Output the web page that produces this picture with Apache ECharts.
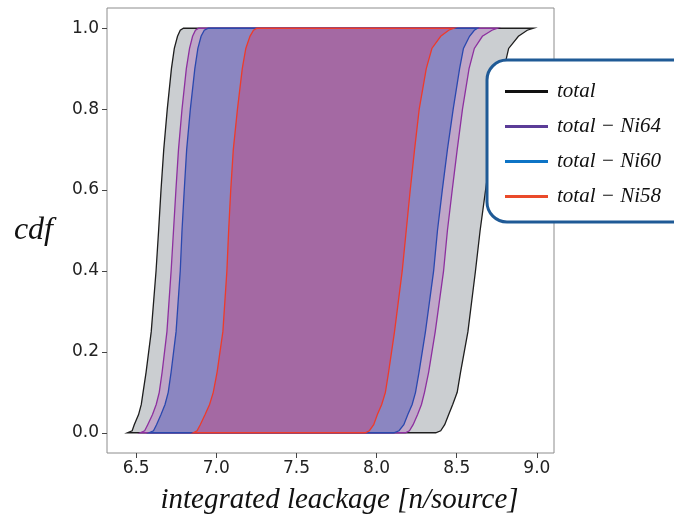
<!DOCTYPE html>
<html>
<head>
<meta charset="utf-8">
<title>cdf bands</title>
<script src="https://cdn.jsdelivr.net/npm/echarts@6/dist/echarts.min.js"></script>
<style>
  html, body { margin: 0; padding: 0; background: #fff; }
  #chart { width: 674px; height: 518px; }
</style>
</head>
<body>
<div id="chart"></div>
<script>
  const cdfLevels = [0, 0.005, 0.02, 0.045, 0.07, 0.1, 0.15, 0.25, 0.4, 0.5, 0.6, 0.7, 0.8, 0.9, 0.95, 0.98, 0.995, 1.0]

  // left / right bounds (integrated leakage) for each band
  const totalLeft  = [6.445, 6.475, 6.488, 6.515, 6.532, 6.543, 6.562, 6.594, 6.624, 6.640, 6.655, 6.672, 6.694, 6.720, 6.738, 6.758, 6.775, 6.795]
  const totalRight = [8.369, 8.400, 8.425, 8.450, 8.475, 8.503, 8.524, 8.570, 8.617, 8.646, 8.680, 8.715, 8.753, 8.795, 8.824, 8.885, 8.940, 8.980]
  const ni64Left   = [6.525, 6.553, 6.572, 6.602, 6.625, 6.644, 6.662, 6.692, 6.718, 6.733, 6.748, 6.764, 6.786, 6.813, 6.833, 6.852, 6.870, 6.890]
  const ni64Right  = [8.180, 8.205, 8.228, 8.256, 8.280, 8.299, 8.325, 8.366, 8.418, 8.442, 8.472, 8.503, 8.536, 8.577, 8.610, 8.660, 8.720, 8.755]
  const ni60Left   = [6.580, 6.608, 6.627, 6.655, 6.680, 6.700, 6.718, 6.749, 6.775, 6.786, 6.800, 6.815, 6.838, 6.866, 6.885, 6.905, 6.925, 6.950]
  const ni60Right  = [8.108, 8.140, 8.170, 8.195, 8.222, 8.243, 8.265, 8.305, 8.356, 8.380, 8.410, 8.442, 8.478, 8.518, 8.542, 8.580, 8.610, 8.630]
  const ni58Left   = [6.856, 6.880, 6.900, 6.930, 6.958, 6.981, 7.005, 7.041, 7.066, 7.077, 7.090, 7.106, 7.132, 7.162, 7.184, 7.210, 7.232, 7.254]
  const ni58Right  = [7.930, 7.955, 7.982, 8.005, 8.032, 8.055, 8.075, 8.112, 8.160, 8.185, 8.210, 8.237, 8.266, 8.310, 8.345, 8.400, 8.450, 8.483]

  const seriesNames = ['total', 'total \u2212 Ni64', 'total \u2212 Ni60', 'total \u2212 Ni58']
  const xTicks = [6.5, 7.0, 7.5, 8.0, 8.5, 9.0]
  const yTicks = [0, 0.2, 0.4, 0.6, 0.8, 1.0]

  // 图例颜色 / 填充 / 边线
  const legendColors = ['#111111', '#5b3c97', '#0d74c6', '#ea4a2a']
  const fillColors = ['#cbced1', '#bfa7c8', '#8b86c1', '#a469a3']
  const edgeColors = ['#1e1e1e', '#8d309f', '#2a48ae', '#ee3b2a']

  const bands = [
    [totalLeft, totalRight],
    [ni64Left, ni64Right],
    [ni60Left, ni60Right],
    [ni58Left, ni58Right]
  ]

  // closed outline: left bound upward, right bound downward
  function bandPoints (left, right) {
    const pts = []
    for (let i = 0; i < cdfLevels.length; i++) pts.push([left[i], cdfLevels[i]])
    for (let i = cdfLevels.length - 1; i >= 0; i--) pts.push([right[i], cdfLevels[i]])
    return pts
  }

  const series = bands.map((b, k) => {
    const pts = bandPoints(b[0], b[1])
    return {
      type: 'custom',
      name: seriesNames[k],
      coordinateSystem: 'cartesian2d',
      itemStyle: { color: legendColors[k] },
      data: pts,
      encode: { x: 0, y: 1 },
      renderItem: function (params, api) {
        if (params.dataIndex !== 0) return
        return {
          type: 'polygon',
          shape: { points: pts.map(p => api.coord(p)) },
          style: { fill: fillColors[k], stroke: edgeColors[k], lineWidth: 1.3 }
        }
      },
      z: 2 + k
    }
  })

  const mathFont = 'Liberation Serif'
  const chart = echarts.init(document.getElementById('chart'))
  chart.setOption({
    animation: false,
    grid: {
      left: 107, top: 8, right: 120, bottom: 65,
      containLabel: false, outerBoundsMode: 'none',
      show: true, borderColor: '#8c8c8c', borderWidth: 1
    },
    xAxis: {
      type: 'value',
      min: 6.318, max: 9.107,
      axisLine: { show: false, onZero: false },
      splitLine: { show: false },
      axisTick: { length: 5, lineStyle: { color: '#444' }, customValues: xTicks },
      axisLabel: {
        customValues: xTicks, margin: 7, fontSize: 17, color: '#222',
        fontFamily: 'DejaVu Sans', formatter: v => v.toFixed(1)
      },
      name: 'integrated leackage [n/source]',
      nameLocation: 'middle', nameGap: 33,
      nameTextStyle: { fontFamily: mathFont, fontStyle: 'italic', fontSize: 29, color: '#111', padding: [0, 0, 0, 18] }
    },
    yAxis: {
      type: 'value',
      min: -0.05, max: 1.05,
      axisLine: { show: false, onZero: false },
      splitLine: { show: false },
      axisTick: { length: 5, lineStyle: { color: '#444' }, customValues: yTicks },
      axisLabel: {
        customValues: yTicks, margin: 8, fontSize: 17, color: '#222',
        fontFamily: 'DejaVu Sans', formatter: v => v.toFixed(1)
      },
      name: 'cdf',
      nameLocation: 'middle', nameRotate: 0, nameGap: 54,
      nameTextStyle: { fontFamily: mathFont, fontStyle: 'italic', fontSize: 32, color: '#111' }
    },
    legend: {
      orient: 'vertical',
      left: 500, top: 76,
      icon: 'rect', itemWidth: 43, itemHeight: 3, itemGap: 14,
      z: 11,
      data: seriesNames.map((n, k) => ({ name: n, itemStyle: { color: legendColors[k] } })),
      textStyle: { fontFamily: mathFont, fontStyle: 'italic', fontSize: 21, color: '#111', padding: [0, 0, 0, 4] }
    },
    graphic: [{
      type: 'rect', z: 10,
      shape: { x: 487, y: 60, width: 210, height: 162, r: 20 },
      style: { fill: '#fff', stroke: '#1f5a96', lineWidth: 3 }
    }],
    series: series
  })
</script>
</body>
</html>
